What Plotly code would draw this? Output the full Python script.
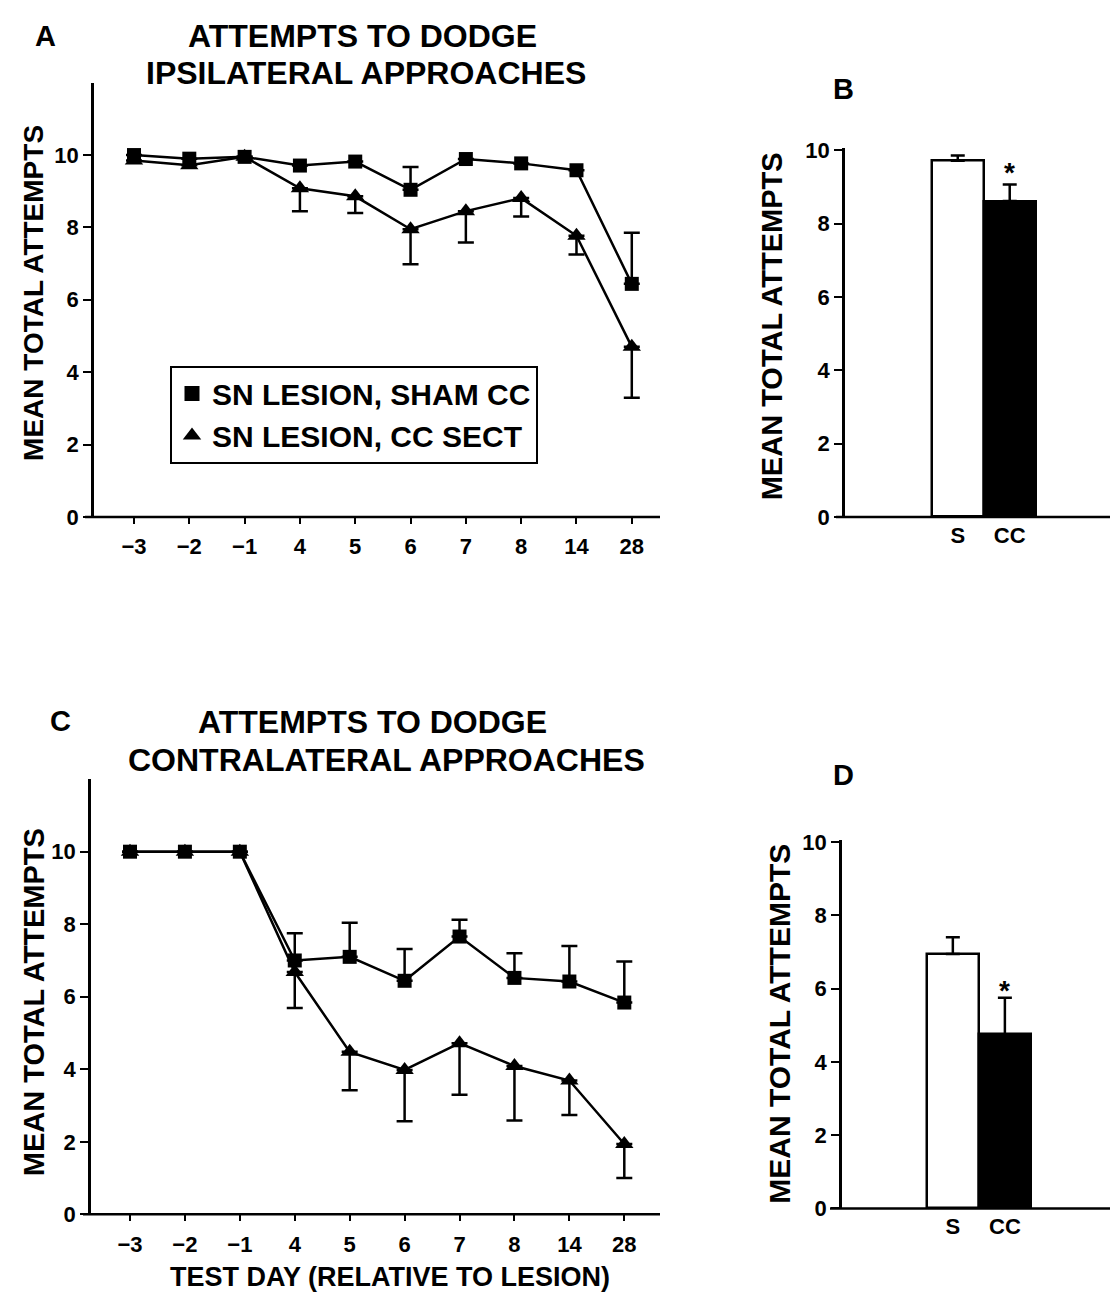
import plotly.graph_objects as go

# ---------------- data ----------------
days = ["\u22123", "\u22122", "\u22121", "4", "5", "6", "7", "8", "14", "28"]

ipsi_sham = [10.0, 9.9, 9.95, 9.71, 9.82, 9.04, 9.89, 9.77, 9.58, 6.44]
ipsi_sham_err = [0, 0, 0, 0, 0, 0.63, 0, 0, 0, 1.41]
ipsi_cc = [9.85, 9.72, 9.95, 9.08, 8.86, 7.95, 8.45, 8.81, 7.77, 4.70]
ipsi_cc_err = [0, 0, 0, 0.63, 0.46, 0.97, 0.87, 0.51, 0.52, 1.41]

contra_sham = [10.0, 10.0, 10.0, 7.0, 7.1, 6.44, 7.66, 6.52, 6.42, 5.84]
contra_sham_err = [0, 0, 0, 0.75, 0.94, 0.88, 0.46, 0.68, 0.98, 1.13]
contra_cc = [10.0, 10.0, 10.0, 6.68, 4.48, 3.98, 4.72, 4.09, 3.69, 1.94]
contra_cc_err = [0, 0, 0, 0.99, 1.06, 1.41, 1.42, 1.50, 0.95, 0.94]

groups = ["S", "CC"]
ipsi_mean = [9.72, 8.62]
ipsi_mean_err = [0.14, 0.45]
contra_mean = [6.94, 4.75]
contra_mean_err = [0.46, 1.00]

series_names = ["SN LESION, SHAM CC", "SN LESION, CC SECT"]
y_ticks = [0, 2, 4, 6, 8, 10]

# ---------------- helpers ----------------
W, H = 1110, 1301
FONT = "Liberation Sans, Arial, Helvetica, sans-serif"
BLACK = "black"


def px(x):
    return x / W


def py(y):
    return 1 - y / H


fig = go.Figure()


def line_traces(xa, ya, sham, sham_err, cc, cc_err):
    # CC SECT (triangles) - error bars downward
    fig.add_trace(go.Scatter(
        x=days, y=cc, xaxis=xa, yaxis=ya, mode="lines+markers",
        line=dict(color=BLACK, width=2.5),
        marker=dict(symbol="triangle-up", size=16, color=BLACK),
        error_y=dict(type="data", symmetric=False, array=[0] * len(cc_err),
                     arrayminus=cc_err, color=BLACK, thickness=2.5, width=8),
        showlegend=False, cliponaxis=False))
    # SHAM CC (squares) - error bars upward
    fig.add_trace(go.Scatter(
        x=days, y=sham, xaxis=xa, yaxis=ya, mode="lines+markers",
        line=dict(color=BLACK, width=2.5),
        marker=dict(symbol="square", size=14, color=BLACK),
        error_y=dict(type="data", symmetric=False, array=sham_err,
                     arrayminus=[0] * len(sham_err), color=BLACK, thickness=2.5, width=8),
        showlegend=False, cliponaxis=False))


def bar_trace(xa, ya, means, errs):
    fig.add_trace(go.Bar(
        x=groups, y=means, xaxis=xa, yaxis=ya, width=1.0,
        marker=dict(color=["white", BLACK], line=dict(color=BLACK, width=2.5)),
        error_y=dict(type="data", symmetric=False, array=errs,
                     arrayminus=[0] * len(errs), color=BLACK, thickness=2.5, width=7),
        showlegend=False))


line_traces("x", "y", ipsi_sham, ipsi_sham_err, ipsi_cc, ipsi_cc_err)
bar_trace("x2", "y2", ipsi_mean, ipsi_mean_err)
line_traces("x3", "y3", contra_sham, contra_sham_err, contra_cc, contra_cc_err)
bar_trace("x4", "y4", contra_mean, contra_mean_err)

# legend-only entries (marker symbols only, as in the original)
fig.add_trace(go.Scatter(x=[None], y=[None], mode="markers", name=series_names[0],
                         marker=dict(symbol="square", size=15, color=BLACK)))
fig.add_trace(go.Scatter(x=[None], y=[None], mode="markers", name=series_names[1],
                         marker=dict(symbol="triangle-up", size=16, color=BLACK)))

tickfont = dict(family=FONT, size=22, color=BLACK, weight="bold")

common_x = dict(showgrid=False, zeroline=False, showline=False, tickfont=tickfont,
                fixedrange=True)
common_y = dict(showgrid=False, zeroline=False, showline=True, linecolor=BLACK,
                linewidth=2.5, ticks="outside", ticklen=8, tickwidth=2,
                tickcolor=BLACK, tickvals=y_ticks, tickfont=tickfont, fixedrange=True)

# pixel geometry of the four panels
A_bot, A_top = 516, 74
B_bot, B_top = 516, 140
C_bot, C_top = 1226, 783
D_bot, D_top = 1220, 845

fig.update_layout(
    width=W, height=H,
    margin=dict(l=0, r=0, t=0, b=0),
    paper_bgcolor="white", plot_bgcolor="rgba(0,0,0,0)",
    font=dict(family=FONT, color=BLACK),
    bargap=0,
    xaxis=dict(domain=[px(94), px(660)], anchor="y", type="category",
               range=[-0.723, 9.51], ticks="outside", ticklen=6, tickwidth=2,
               tickcolor=BLACK, ticklabelstandoff=4, **common_x),
    yaxis=dict(domain=[py(A_bot), py(A_top)], anchor="x", range=[0, 12], **common_y),
    xaxis2=dict(domain=[px(845), 1.0], anchor="y2", type="category",
                range=[-2.17, 2.93], ticks="", ticklabelstandoff=3, **common_x),
    yaxis2=dict(domain=[py(B_bot), py(B_top)], anchor="x2", range=[0, 10.08], **common_y),
    xaxis3=dict(domain=[px(91), px(660)], anchor="y3", type="category",
                range=[-0.71, 9.65], ticks="outside", ticklen=6, tickwidth=2,
                tickcolor=BLACK, ticklabelstandoff=4, **common_x),
    yaxis3=dict(domain=[py(C_bot), py(C_top)], anchor="x3", range=[0, 12], **common_y),
    xaxis4=dict(domain=[px(842), 1.0], anchor="y4", type="category",
                range=[-2.13, 3.02], ticks="", ticklabelstandoff=3, **common_x),
    yaxis4=dict(domain=[py(D_bot), py(D_top)], anchor="x4", range=[0, 10.05], **common_y),
    legend=dict(x=px(170), y=py(362), xanchor="left", yanchor="top",
                bgcolor="white", bordercolor=BLACK, borderwidth=2,
                font=dict(family=FONT, size=30, color=BLACK, weight="bold"),
                itemwidth=30, tracegroupgap=0),
)

# x-axis baselines (extend slightly left of the y axis, as in the original)
for x0, x1, yb in [(85, 660, A_bot), (836, 1110, B_bot), (83, 660, C_bot), (830, 1110, D_bot)]:
    fig.add_shape(type="line", xref="paper", yref="paper",
                  x0=px(x0), x1=px(x1), y0=py(yb), y1=py(yb),
                  line=dict(color=BLACK, width=2.5))

ann = []


def text(x, y, s, size, angle=0):
    ann.append(dict(x=px(x), y=py(y), xref="paper", yref="paper", text=s,
                    showarrow=False, textangle=angle, xanchor="center", yanchor="middle",
                    font=dict(family=FONT, size=size, color=BLACK, weight="bold")))


text(45, 26, "A", 29)
text(362, 26, "ATTEMPTS TO DODGE", 32)
text(366, 64, "IPSILATERAL APPROACHES", 32)
text(843, 80, "B", 29)
text(60, 724, "C", 29)
text(372, 725, "ATTEMPTS TO DODGE", 32)
text(386, 764, "CONTRALATERAL APPROACHES", 32)
text(843, 779, "D", 29)
text(34, 288, "MEAN TOTAL ATTEMPTS", 28, -90)
text(34, 1010, "MEAN TOTAL ATTEMPTS", 29, -90)
text(772, 322, "MEAN TOTAL ATTEMPTS", 29, -90)
text(780, 1032, "MEAN TOTAL ATTEMPTS", 30, -90)
text(390, 1290, "TEST DAY (RELATIVE TO LESION)", 27)

# significance asterisks above the CC bars
ann.append(dict(x="CC", y=9.4, xref="x2", yref="y2", text="*", showarrow=False,
                font=dict(family=FONT, size=28, color=BLACK, weight="bold")))
ann.append(dict(x="CC", y=5.95, xref="x4", yref="y4", text="*", showarrow=False,
                font=dict(family=FONT, size=28, color=BLACK, weight="bold")))

fig.update_layout(annotations=ann)

fig.write_html("out.html")
